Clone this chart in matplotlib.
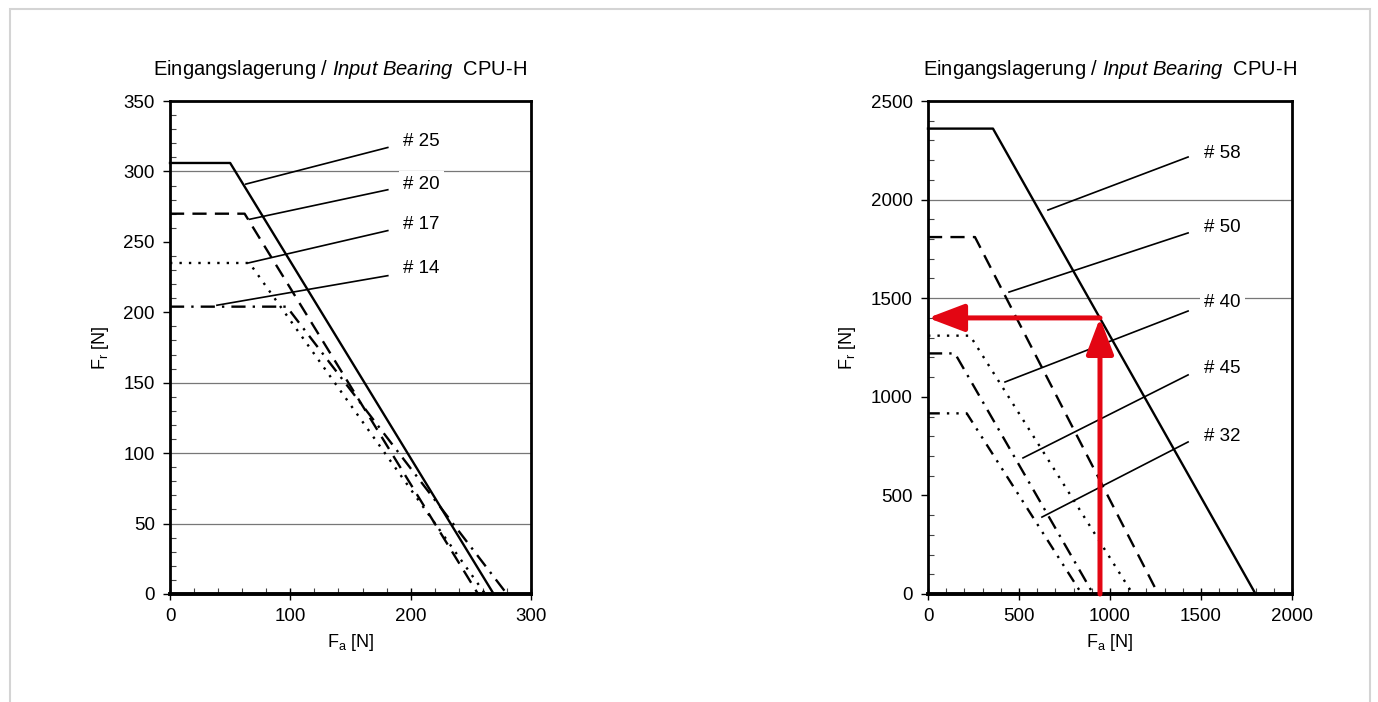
import matplotlib
matplotlib.use('Agg')
import numpy as np
import matplotlib.pyplot as plt
from matplotlib.ticker import MultipleLocator
from matplotlib.patches import Rectangle

plt.rcParams['font.family'] = ['Liberation Sans', 'DejaVu Sans']
plt.rcParams['mathtext.fontset'] = 'custom'
plt.rcParams['mathtext.rm'] = 'Liberation Sans'
plt.rcParams['mathtext.it'] = 'Liberation Sans:italic'

# left chart: curves (Fa, Fr) for each size
left_names = ['# 25', '# 20', '# 17', '# 14']
left_fa = [[0, 50, 269], [0, 62, 256], [0, 66, 262], [0, 97, 280]]
left_fr = [[306, 306, 0], [270, 270, 0], [235, 235, 0], [204, 204, 0]]
# leader lines (start, end)
left_lead_x = [[63, 181], [66, 181], [65, 181], [39, 181]]
left_lead_y = [[291, 317], [266, 287], [235, 258], [205, 226]]
left_label_y = [321, 291, 262, 231]
left_label_x = 194
left_grid = [50, 100, 150, 300]

# right chart
right_names = ['# 58', '# 50', '# 40', '# 45', '# 32']
right_fa = [[0, 357, 1800], [0, 258, 1265], [0, 231, 1125], [0, 148, 908], [0, 213, 845]]
right_fr = [[2360, 2360, 0], [1810, 1810, 0], [1310, 1310, 0], [1220, 1220, 0], [916, 916, 0]]
right_lead_x = [[659, 1429], [445, 1429], [423, 1429], [522, 1429], [626, 1429]]
right_lead_y = [[1947, 2216], [1531, 1831], [1075, 1435], [690, 1111], [390, 771]]
right_label_y = [2236, 1861, 1476, 1141, 801]
right_label_x = 1516
right_grid = [1500, 2000]

# operating point example
op_fa = 945
op_fr = 1400

styles = ['-', (0, (6, 3.5)), (0, (1, 3)), (0, (6, 3, 1, 3)), (0, (5, 3, 1, 3, 1, 3))]
red = '#e30613'

fig = plt.figure(figsize=(13.78, 7.02), dpi=100)
fig.patches.append(Rectangle((10/1378, -0.05), 1360/1378, 1.05 - 9/702, transform=fig.transFigure,
                             fill=False, edgecolor='#d4d4d4', lw=1.5))

ax1 = fig.add_axes([170/1378, 1-594/702, 361/1378, 493/702])
ax2 = fig.add_axes([928/1378, 1-594/702, 364/1378, 493/702])

title = r'Eingangslagerung / $\mathit{Input\ Bearing}$  CPU-H'


def setup(ax, xmax, ymax, xmaj, xmin_, ymaj, ymin_, grid):
    ax.set_xlim(0, xmax)
    ax.set_ylim(0, ymax)
    ax.xaxis.set_major_locator(MultipleLocator(xmaj))
    ax.xaxis.set_minor_locator(MultipleLocator(xmin_))
    ax.yaxis.set_major_locator(MultipleLocator(ymaj))
    ax.yaxis.set_minor_locator(MultipleLocator(ymin_))
    ax.tick_params(axis='x', which='major', direction='inout', length=8, width=1, labelsize=13.5, pad=6)
    ax.tick_params(axis='y', which='major', direction='out', length=5, width=1, labelsize=13.5, pad=6)
    ax.tick_params(which='minor', direction='in', length=4, width=0.8, color='#444444')
    for s in ax.spines.values():
        s.set_linewidth(2)
    ax.spines['bottom'].set_linewidth(2.8)
    for g in grid:
        ax.axhline(g, color='#777777', lw=0.9, zorder=0)
    ax.set_xlabel(r'F$_\mathrm{a}$ [N]', fontsize=13, labelpad=5)
    ax.set_ylabel(r'F$_\mathrm{r}$ [N]', fontsize=13, labelpad=9)
    ax.set_title(title, fontsize=14.5, pad=19)


setup(ax1, 300, 350, 100, 20, 50, 10, left_grid)
setup(ax2, 2000, 2500, 500, 100, 500, 100, right_grid)
ax1.title.set_x(0.47)

for i in range(len(left_names)):
    ax1.plot(left_fa[i], left_fr[i], color='black', lw=1.7, linestyle=styles[i], clip_on=False)
    ax1.plot(left_lead_x[i], left_lead_y[i], color='black', lw=1.2)
    ax1.text(left_label_x, left_label_y[i], left_names[i], fontsize=13.5, va='center', ha='left',
             bbox=dict(facecolor='white', edgecolor='none', pad=3))

for i in range(len(right_names)):
    ax2.plot(right_fa[i], right_fr[i], color='black', lw=1.7, linestyle=styles[i], clip_on=False)
    ax2.plot(right_lead_x[i], right_lead_y[i], color='black', lw=1.2)
    ax2.text(right_label_x, right_label_y[i], right_names[i], fontsize=13.5, va='center', ha='left',
             bbox=dict(facecolor='white', edgecolor='none', pad=3))

arrow = dict(arrowstyle='-|>,head_length=1.0,head_width=0.38', color=red, lw=3.6,
             mutation_scale=22, shrinkA=0, shrinkB=0)
ax2.annotate('', xy=(0, op_fr), xytext=(op_fa, op_fr), arrowprops=arrow, annotation_clip=False)
ax2.annotate('', xy=(op_fa, op_fr), xytext=(op_fa, 0), arrowprops=arrow, annotation_clip=False)

fig.savefig('out.png', dpi=100)
